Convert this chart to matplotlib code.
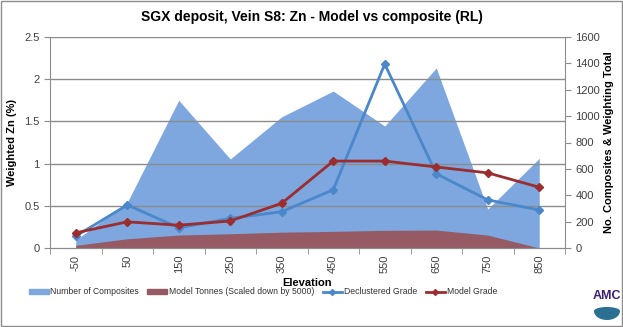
import matplotlib
matplotlib.use('Agg')
import matplotlib.pyplot as plt
import matplotlib.patches as patches
from matplotlib.lines import Line2D
import numpy as np

plt.rcParams['font.family'] = ['Liberation Sans', 'DejaVu Sans']

# elevations (RL)
elevation = ['-50', '50', '150', '250', '350', '450', '550', '650', '750', '850']
# right axis
n_composites = [60, 345, 1120, 675, 995, 1190, 925, 1365, 295, 680]
model_tonnes = [20, 70, 98, 108, 120, 126, 134, 136, 98, 0]
# left axis
declustered_grade = [0.14, 0.51, 0.24, 0.35, 0.43, 0.69, 2.18, 0.88, 0.57, 0.45]
model_grade = [0.18, 0.31, 0.27, 0.32, 0.53, 1.03, 1.03, 0.96, 0.89, 0.72]

c_comp = '#7DA7DE'
c_tonnes = '#955A63'
c_decl = '#4A87CB'
c_model = '#9B2D2F'
c_grid = '#8C8C8C'
c_text = '#404040'

fig = plt.figure(figsize=(6.23, 3.27), dpi=100)
ax = fig.add_axes([50 / 623, 1 - 248 / 327, 515 / 623, 211 / 327])
ax2 = ax.twinx()

x = np.arange(len(elevation))

# areas on the secondary axis, lines on the primary one drawn above
ax2.fill_between(x, n_composites, color=c_comp, lw=0, zorder=1)
ax2.fill_between(x, model_tonnes, color=c_tonnes, lw=0, zorder=2)
ax2.set_ylim(0, 1600)
ax2.set_yticks(range(0, 1601, 200))

ax.set_zorder(ax2.get_zorder() + 1)
ax.patch.set_visible(False)
ax.plot(x, declustered_grade, color=c_decl, lw=2, marker='D', ms=4, zorder=4)
ax.plot(x, model_grade, color=c_model, lw=2, marker='D', ms=4, zorder=5)
ax.set_ylim(0, 2.5)
ax.set_yticks([0, 0.5, 1, 1.5, 2, 2.5])
ax.set_yticklabels(['0', '0.5', '1', '1.5', '2', '2.5'])
ax.set_xlim(-0.5, len(elevation) - 0.5)

# horizontal gridlines sit on top of the filled areas
for v in [0.5, 1, 1.5, 2, 2.5]:
    ax2.axhline(v * 640, color=c_grid, lw=1, zorder=3)

ax.set_xticks(x)
ax.set_xticklabels(elevation, rotation=90, fontsize=8, color=c_text)
ax.set_xticks(np.arange(-0.5, len(elevation), 1), minor=True)
ax.tick_params(axis='x', which='major', length=0, pad=5)
ax.tick_params(axis='x', which='minor', length=4, color=c_grid)
ax.tick_params(axis='y', length=4, color=c_grid, labelsize=8, labelcolor=c_text)
ax2.tick_params(axis='y', length=4, color=c_grid, labelsize=8, labelcolor=c_text)

for a in (ax, ax2):
    a.spines['top'].set_visible(False)
    for s in ('left', 'right', 'bottom'):
        a.spines[s].set_color(c_grid)
ax2.spines['left'].set_visible(False)
ax.spines['right'].set_visible(False)

ax.set_xlabel('Elevation', fontsize=8, fontweight='bold', labelpad=3)
ax.set_ylabel('Weighted Zn (%)', fontsize=8, fontweight='bold', labelpad=5)
ax2.set_ylabel('No. Composites & Weighting Total', fontsize=8, fontweight='bold', labelpad=3)

fig.text(0.5, 1 - 17 / 327, 'SGX deposit, Vein S8: Zn - Model vs composite (RL)',
         ha='center', va='center', fontsize=10, fontweight='bold')

handles = [
    patches.Patch(color=c_comp),
    patches.Patch(color=c_tonnes),
    Line2D([], [], color=c_decl, lw=2, marker='D', ms=3),
    Line2D([], [], color=c_model, lw=2, marker='D', ms=3),
]
labels = ['Number of Composites', 'Model Tonnes (Scaled down by 5000)',
          'Declustered Grade', 'Model Grade']
fig.legend(handles, labels, loc='center', bbox_to_anchor=(263 / 623, 1 - 292 / 327),
           ncol=4, frameon=False, fontsize=6.2, handlelength=2.3, handleheight=0.5,
           columnspacing=1.0, handletextpad=0.15, labelcolor='#303030')

# company logo
fig.text(607 / 623, 1 - 296 / 327, 'AMC', ha='center', va='center',
         fontsize=9, fontweight='bold', color='#3C1F6E')
t = np.linspace(0, np.pi, 30)
lx = 607 + 13 * np.cos(t[::-1] + np.pi)
top = 311 - 4 * np.sin(t)
bot = 311 + 9 * np.sin(t)
poly = np.column_stack([np.concatenate([lx, lx[::-1]]),
                        np.concatenate([top, bot[::-1]])])
poly[:, 0] /= 623
poly[:, 1] = 1 - poly[:, 1] / 327
fig.patches.append(patches.Polygon(poly, closed=True, transform=fig.transFigure,
                                   facecolor='#2B6F92', edgecolor='none'))

# outer frame
fig.patches.append(patches.Rectangle((0.002, 0.003), 0.996, 0.994, transform=fig.transFigure,
                                     fill=False, edgecolor='#8C8C8C', lw=1))

fig.savefig('out.png', dpi=100)
